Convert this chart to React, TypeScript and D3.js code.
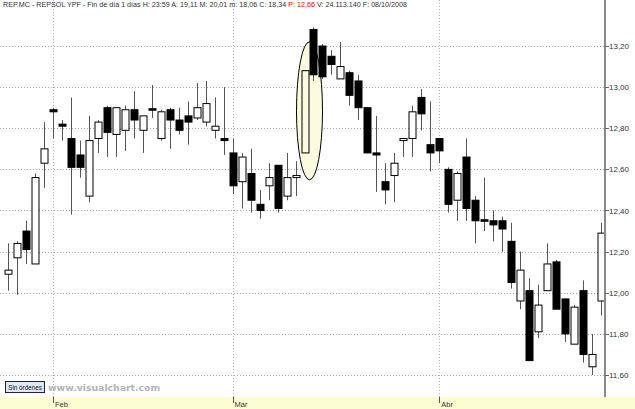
import React from 'react';
import * as d3 from 'd3';

// daily candles
const opens = [12.09, 12.17, 12.30, 12.14, 12.63, 12.89, 12.82, 12.75, 12.67, 12.47, 12.75, 12.90, 12.77, 12.79, 12.89, 12.79, 12.895,
  12.75, 12.89, 12.84, 12.86, 12.85, 12.83, 12.79, 12.75, 12.68, 12.54, 12.58, 12.43, 12.52, 12.62, 12.47, 12.56, 12.68,
  13.28, 13.20, 13.15, 13.04, 13.07, 13.03, 12.90, 12.68, 12.54, 12.57, 12.74, 12.75, 12.95, 12.72, 12.75, 12.60, 12.45,
  12.66, 12.45, 12.355, 12.35, 12.35, 12.25, 11.96, 12.01, 11.81, 12.01, 12.15, 11.97, 11.75, 12.01, 11.64, 11.96];
const highs = [12.24, 12.25, 12.35, 12.58, 12.83, 12.90, 12.84, 12.95, 12.74, 12.86, 12.84, 12.91, 12.90, 12.91, 12.98, 12.86, 13.01,
  12.89, 12.90, 12.90, 12.93, 13.02, 13.03, 12.95, 13.00, 12.75, 12.68, 12.70, 12.50, 12.63, 12.62, 12.68, 12.64, 13.08,
  13.29, 13.21, 13.18, 13.22, 13.08, 13.06, 12.90, 12.86, 12.63, 12.68, 12.75, 12.91, 12.99, 12.93, 12.75, 12.61, 12.59,
  12.75, 12.47, 12.56, 12.40, 12.37, 12.34, 12.20, 12.07, 12.04, 12.24, 12.16, 11.97, 11.94, 12.06, 11.80, 12.34];
const lows = [12.01, 11.99, 12.14, 12.14, 12.51, 12.75, 12.74, 12.38, 12.56, 12.44, 12.68, 12.66, 12.66, 12.69, 12.75, 12.68, 12.85,
  12.74, 12.70, 12.77, 12.72, 12.84, 12.81, 12.75, 12.67, 12.48, 12.41, 12.39, 12.36, 12.45, 12.39, 12.45, 12.47, 12.68,
  13.03, 13.04, 13.06, 13.04, 12.91, 12.84, 12.68, 12.49, 12.43, 12.44, 12.66, 12.66, 12.79, 12.59, 12.63, 12.39, 12.35,
  12.35, 12.24, 12.30, 12.25, 12.20, 12.02, 11.92, 11.67, 11.78, 12.01, 11.92, 11.76, 11.75, 11.66, 11.60, 11.89];
const closes = [12.11, 12.24, 12.21, 12.56, 12.70, 12.88, 12.81, 12.61, 12.61, 12.74, 12.83, 12.78, 12.90, 12.89, 12.84, 12.86, 12.89,
  12.88, 12.84, 12.79, 12.83, 12.90, 12.92, 12.81, 12.74, 12.52, 12.66, 12.45, 12.40, 12.56, 12.41, 12.56, 12.57, 13.08,
  13.06, 13.05, 13.11, 13.10, 12.96, 12.90, 12.68, 12.67, 12.50, 12.63, 12.75, 12.88, 12.87, 12.68, 12.69, 12.43, 12.58,
  12.41, 12.35, 12.35, 12.33, 12.31, 12.05, 12.11, 11.67, 11.94, 12.14, 11.92, 11.80, 11.93, 11.70, 11.70, 12.29];

const monthStarts = [5, 25, 48];
const monthLabels = ['Feb', 'Mar', 'Abr'];
const priceTicks = [11.6, 11.8, 12.0, 12.2, 12.4, 12.6, 12.8, 13.0, 13.2];
const highlighted = 33; // the circled candle

const W = 635, H = 409;
const plotRight = 605, plotBottom = 397;
const markFill = '#fcfbe0';

export default function App() {
  const x = d3.scaleLinear().domain([0, opens.length - 1]).range([8, 601]);
  const y = d3.scaleLinear().domain([11.6, 13.2]).range([375, 46]);
  const fmt = (v: number) => d3.format('.2f')(v).replace('.', ',');
  const bw = 7;

  const candles = opens.map((o, i) => ({ i, o, h: highs[i], l: lows[i], c: closes[i] }));
  const hc = candles[highlighted];
  const ex = x(hc.i) + 5;

  return (
    <svg width={W} height={H} style={{ position: 'absolute', left: 0, top: 0, background: '#fff' }}
      fontFamily="'Liberation Sans', Arial, sans-serif">
      <rect x={0} y={plotBottom} width={W} height={H - plotBottom} fill="#fdfdd4" />

      {/* grid */}
      {priceTicks.map(t => (
        <line key={t} x1={0} x2={plotRight} y1={Math.round(y(t)) + 0.5} y2={Math.round(y(t)) + 0.5}
          stroke="#a8a8a8" strokeDasharray="1,2" />
      ))}
      {monthStarts.map(m => (
        <line key={m} x1={Math.round(x(m)) + 0.5} x2={Math.round(x(m)) + 0.5} y1={0} y2={plotBottom}
          stroke="#b8b8b8" strokeDasharray="1,2" />
      ))}

      <ellipse cx={ex} cy={(y(hc.c) + y(hc.o)) / 2 - 1} rx={13} ry={69}
        fill={markFill} stroke="#000" strokeWidth={1} />

      {/* candles */}
      {candles.map(d => {
        const up = d.c >= d.o;
        const top = y(Math.max(d.o, d.c));
        const bh = Math.max(1.5, Math.abs(y(d.o) - y(d.c)));
        const cx = Math.round(x(d.i)) + 0.5;
        const fill = up ? (d.i === highlighted ? markFill : '#fff') : '#000';
        return (
          <g key={d.i}>
            <line x1={cx} x2={cx} y1={y(d.h)} y2={y(d.l)} stroke="#555" />
            <rect x={cx - bw / 2} y={top} width={bw} height={bh}
              fill={fill} stroke="#000" strokeWidth={1} />
          </g>
        );
      })}

      {/* right axis */}
      <line x1={plotRight} x2={plotRight} y1={0} y2={plotBottom} stroke="#8a8a8a" strokeWidth={2} />
      {priceTicks.map(t => (
        <g key={t}>
          <line x1={plotRight} x2={plotRight + 4} y1={Math.round(y(t)) + 0.5} y2={Math.round(y(t)) + 0.5} stroke="#666" />
          <text x={plotRight + 4} y={y(t) + 3} fontSize={8} fill="#333">{fmt(t)}</text>
        </g>
      ))}

      {/* month axis */}
      {monthStarts.map((m, k) => (
        <g key={m}>
          <line x1={Math.round(x(m)) + 0.5} x2={Math.round(x(m)) + 0.5} y1={plotBottom} y2={plotBottom + 6} stroke="#555" />
          <text x={x(m) + 2} y={plotBottom + 10} fontSize={7.5} fill="#333">{monthLabels[k]}</text>
        </g>
      ))}

      {/* header */}
      <text x={3} y={7} fontSize={6.6} fill="#333" textLength={404} lengthAdjust="spacingAndGlyphs">
        REP.MC - REPSOL YPF - Fin de día 1 días  H: 23:59  A: 19,11  M: 20,01  m: 18,06  C: 18,34  <tspan fill="#e00000">P: 12,66</tspan>  V: 24.113.140  F: 08/10/2008
      </text>

      {/* footer */}
      <rect x={5.5} y={381.5} width={39} height={11} fill="#dce8f2" stroke="#223" />
      <text x={25} y={389.5} fontSize={6.3} fill="#111" textAnchor="middle">Sin órdenes</text>
      <text x={48} y={391} fontSize={9.3} fontWeight="bold" fill="#b4b4b4"
        fontFamily="'DejaVu Sans', Verdana, sans-serif">www.visualchart.com</text>
    </svg>
  );
}
